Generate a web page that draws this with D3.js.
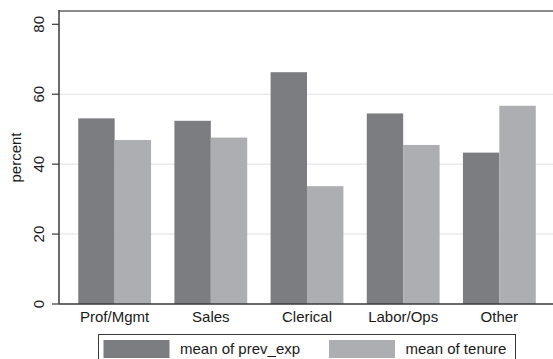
<!DOCTYPE html>
<html>
<head>
<meta charset="utf-8">
<script src="https://cdn.jsdelivr.net/npm/d3@7"></script>
<style>
  html, body { margin: 0; padding: 0; background: #fff; }
  svg { display: block; font-family: "Liberation Sans", Arial, sans-serif; }
</style>
</head>
<body>
<div id="chart"></div>
<script>
// data
const categories = ["Prof/Mgmt", "Sales", "Clerical", "Labor/Ops", "Other"];
const seriesNames = ["mean of prev_exp", "mean of tenure"];
const prevExp = [53.1, 52.4, 66.3, 54.5, 43.3];
const tenure = [46.9, 47.6, 33.7, 45.5, 56.7];
const yTicks = [0, 20, 40, 60, 80];
const gridTicks = [20, 40, 60];

const colors = {
    dark: "#7c7d81",
    light: "#adaeb2",
    grid: "#e2e2e2",
    axis: "#3a3a3a",
    border: "#8c8c8c",
    text: "#1a1a1a"
};

const W = 553, H = 359;
const plotLeft = 59, plotRight = 555, plotTop = 11, plotBottom = 304;

const svg = d3.select("#chart").append("svg")
    .attr("width", W)
    .attr("height", H)
    .attr("viewBox", [0, 0, W, H]);

const y = d3.scaleLinear().domain([0, 80]).range([plotBottom, 24.3]);
const x = d3.scaleBand().domain(categories).range([plotLeft, plotRight])
    .paddingInner(0.243).paddingOuter(0.2);
const xs = d3.scaleBand().domain(seriesNames).range([0, x.bandwidth()]);

// grid lines
svg.append("g").selectAll("line").data(gridTicks).join("line")
    .attr("x1", plotLeft).attr("x2", W)
    .attr("y1", d => y(d)).attr("y2", d => y(d))
    .attr("stroke", colors.grid).attr("stroke-width", 1);

// bars
const rows = categories.map((c, i) => ({ c, vals: [prevExp[i], tenure[i]] }));
const fills = [colors.dark, colors.light];
svg.append("g").selectAll("g").data(rows).join("g")
    .attr("transform", d => `translate(${x(d.c)},0)`)
    .selectAll("rect")
    .data(d => d.vals.map((v, k) => ({ v, k })))
    .join("rect")
    .attr("x", d => xs(seriesNames[d.k]))
    .attr("width", xs.bandwidth())
    .attr("y", d => y(d.v))
    .attr("height", d => y(0) - y(d.v))
    .attr("fill", d => fills[d.k]);

// top border
svg.append("line")
    .attr("x1", plotLeft).attr("x2", W).attr("y1", plotTop).attr("y2", plotTop)
    .attr("stroke", colors.border).attr("stroke-width", 2);

// y axis
const yAxis = svg.append("g");
yAxis.append("line")
    .attr("x1", plotLeft).attr("x2", plotLeft).attr("y1", plotTop - 1).attr("y2", plotBottom)
    .attr("stroke", colors.axis).attr("stroke-width", 1.5);
yAxis.selectAll("line.tick").data(yTicks).join("line")
    .attr("class", "tick")
    .attr("x1", plotLeft - 7).attr("x2", plotLeft)
    .attr("y1", d => y(d)).attr("y2", d => y(d))
    .attr("stroke", colors.axis).attr("stroke-width", 1.2);
yAxis.selectAll("text").data(yTicks).join("text")
    .attr("transform", d => `translate(44,${y(d)}) rotate(-90)`)
    .attr("text-anchor", "middle")
    .attr("font-size", 15)
    .attr("fill", colors.text)
    .text(d => d);

svg.append("text")
    .attr("transform", `translate(21,${(plotTop + plotBottom) / 2}) rotate(-90)`)
    .attr("text-anchor", "middle")
    .attr("font-size", 15)
    .attr("fill", colors.text)
    .text("percent");

// x axis
svg.append("line")
    .attr("x1", plotLeft).attr("x2", W).attr("y1", plotBottom).attr("y2", plotBottom)
    .attr("stroke", colors.axis).attr("stroke-width", 1.5);
svg.append("g").selectAll("text").data(categories).join("text")
    .attr("x", d => x(d) + x.bandwidth() / 2)
    .attr("y", 322)
    .attr("text-anchor", "middle")
    .attr("font-size", 15)
    .attr("fill", colors.text)
    .text(d => d);

// legend
const legend = svg.append("g");
legend.append("rect")
    .attr("x", 98.5).attr("y", 334.5).attr("width", 417).attr("height", 32)
    .attr("fill", "#fff").attr("stroke", colors.axis).attr("stroke-width", 1);
const legX = [103.5, 329];
seriesNames.forEach((s, k) => {
    legend.append("rect")
        .attr("x", legX[k]).attr("y", 340).attr("width", 66).attr("height", 18)
        .attr("fill", fills[k]);
    legend.append("text")
        .attr("x", legX[k] + 76.5).attr("y", 353.5)
        .attr("font-size", 15)
        .attr("fill", colors.text)
        .text(s);
});
</script>
</body>
</html>
